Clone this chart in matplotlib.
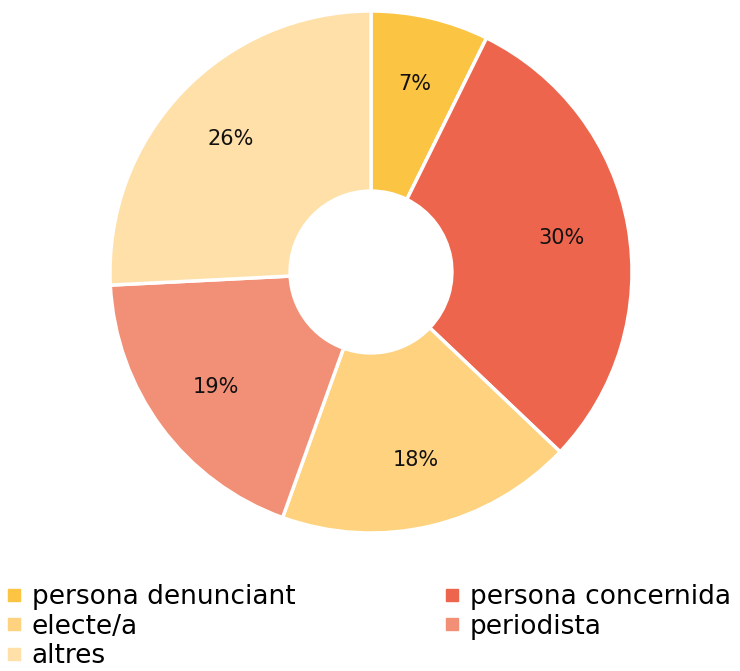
import matplotlib
matplotlib.use("Agg")
import matplotlib.pyplot as plt
from matplotlib.lines import Line2D

labels = ["persona denunciant", "persona concernida", "electe/a", "periodista", "altres"]
values = [7.3, 29.8, 18.4, 18.7, 25.8]
colors = ["#FCC443", "#EE654E", "#FED27E", "#F29077", "#FEE0A8"]

plt.rcParams["font.family"] = ["DejaVu Sans"]

W, H = 740, 671
fig = plt.figure(figsize=(W / 100, H / 100), dpi=100)

# pie axes placed in pixel terms: center (371, 272), radius 261
cx, cy, r = 371, 272, 261
ax = fig.add_axes([(cx - r) / W, (H - cy - r) / H, 2 * r / W, 2 * r / H])
wedges, texts, autotexts = ax.pie(
    values, colors=colors, startangle=90, counterclock=False,
    radius=1, autopct="%.0f%%", pctdistance=0.74,
    wedgeprops=dict(width=0.69, edgecolor="white", linewidth=2.5),
    textprops=dict(fontsize=15, color="#111111"),
)
ax.set_xlim(-1, 1)
ax.set_ylim(-1, 1)
ax.set_aspect("equal")
ax.axis("off")

def handle(c):
    return Line2D([], [], marker="s", linestyle="", markersize=8,
                  markerfacecolor=c, markeredgecolor=c)

# two separate legends so the rows read left to right like the original
left = [0, 2, 4]
right = [1, 3]
for idx, x in ((left, 6 / W), (right, 444 / W)):
    leg = fig.legend([handle(colors[i]) for i in idx], [labels[i] for i in idx],
                     loc="upper left", bbox_to_anchor=(x, (H - 584) / H),
                     frameon=False, fontsize=19, handlelength=0.6,
                     handletextpad=0.38, labelspacing=0.14,
                     borderaxespad=0, borderpad=0)

fig.savefig("out.png", dpi=100)
